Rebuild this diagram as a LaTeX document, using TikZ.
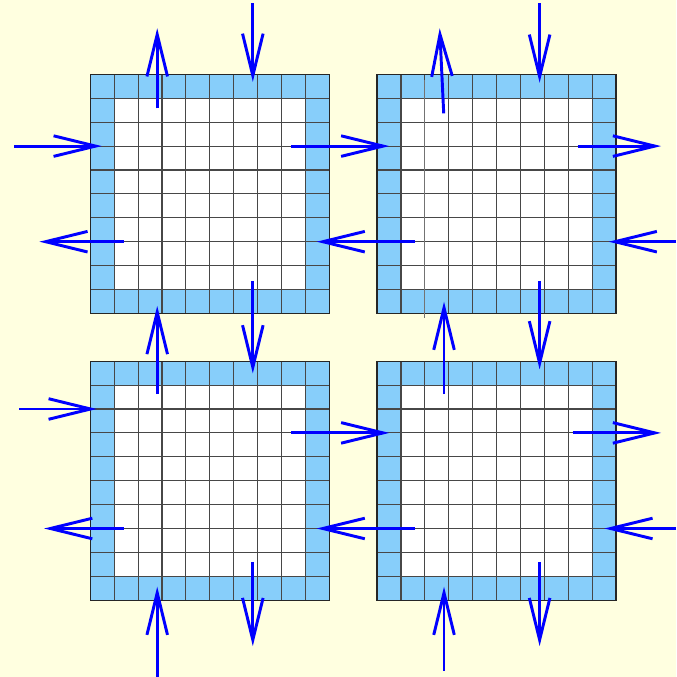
\documentclass[tikz,border=0pt]{standalone}
\usetikzlibrary{arrows.meta}
\definecolor{paper}{RGB}{255,255,224}
\definecolor{halo}{RGB}{135,206,250}
\definecolor{flow}{RGB}{0,0,255}
\begin{document}
\begin{tikzpicture}[
  x=0.6cm,y=0.6cm,
  cellline/.style={line width=0.75pt,black!72},
  frame/.style={line width=1pt,black!85},
  msg/.style={line width=2.1pt,flow,-{Straight Barb[length=30pt,width=14.7pt]}}
]

% ---- background ----
\fill[paper] (-3.778,-3.213) rectangle (24.506,25.113);
\useasboundingbox (-3.778,-3.213) rectangle (24.506,25.113);

% ---- four 10x10 blocks with their halo ring ----
\foreach \gx/\gy in {0/0,12/0,0/12,12/12}{
  \begin{scope}[shift={(\gx,\gy)}]
    \fill[halo] (0,0) rectangle (10,10);
    \fill[white] (1,1) rectangle (9,9);
    \draw[cellline,step=1] (0,0) grid (10,10);
    \draw[frame] (0,0) rectangle (10,10);
  \end{scope}
}
% stray column line in the top right block
\draw[cellline,black!55] (14,11.81) -- (14,21.77);

% ---- top left block ----
\draw[msg] (2.8,20.58) -- (2.8,23.93);
\draw[msg] (6.8,24.97) -- (6.8,21.69);
\draw[msg] (-3.19,19) -- (0.48,19);
\draw[msg] (1.41,15) -- (-2.13,15);

% ---- top right block ----
\draw[msg] (14.787,20.37) -- (14.619,23.93);
\draw[msg] (18.8,24.97) -- (18.8,21.65);
\draw[msg] (20.40,19) -- (23.88,19);
\draw[msg] (24.51,15) -- (21.69,15);

% ---- between top blocks ----
\draw[msg] (8.40,19) -- (12.51,19);
\draw[msg] (13.59,15) -- (9.47,15);

% ---- between top and bottom rows ----
\draw[msg] (2.8,8.62) -- (2.8,12.31);
\draw[msg] (6.8,13.36) -- (6.8,9.49);
\draw[msg] (14.8,8.62) -- (14.8,12.49);
\draw[msg] (18.8,13.36) -- (18.8,9.66);

% ---- bottom left block ----
\draw[msg] (-2.98,8) -- (0.27,8);
\draw[msg] (1.41,3) -- (-1.93,3);
\draw[msg] (2.8,-3.21) -- (2.8,0.565);
\draw[msg] (6.8,1.60) -- (6.8,-1.92);

% ---- between bottom blocks ----
\draw[msg] (8.40,7) -- (12.51,7);
\draw[msg] (13.59,3) -- (9.47,3);

% ---- bottom right block ----
\draw[msg] (20.18,7) -- (23.88,7);
\draw[msg] (24.51,3) -- (21.51,3);
\draw[msg] (14.8,-2.96) -- (14.8,0.565);
\draw[msg] (18.8,1.60) -- (18.8,-1.92);

\end{tikzpicture}
\end{document}
